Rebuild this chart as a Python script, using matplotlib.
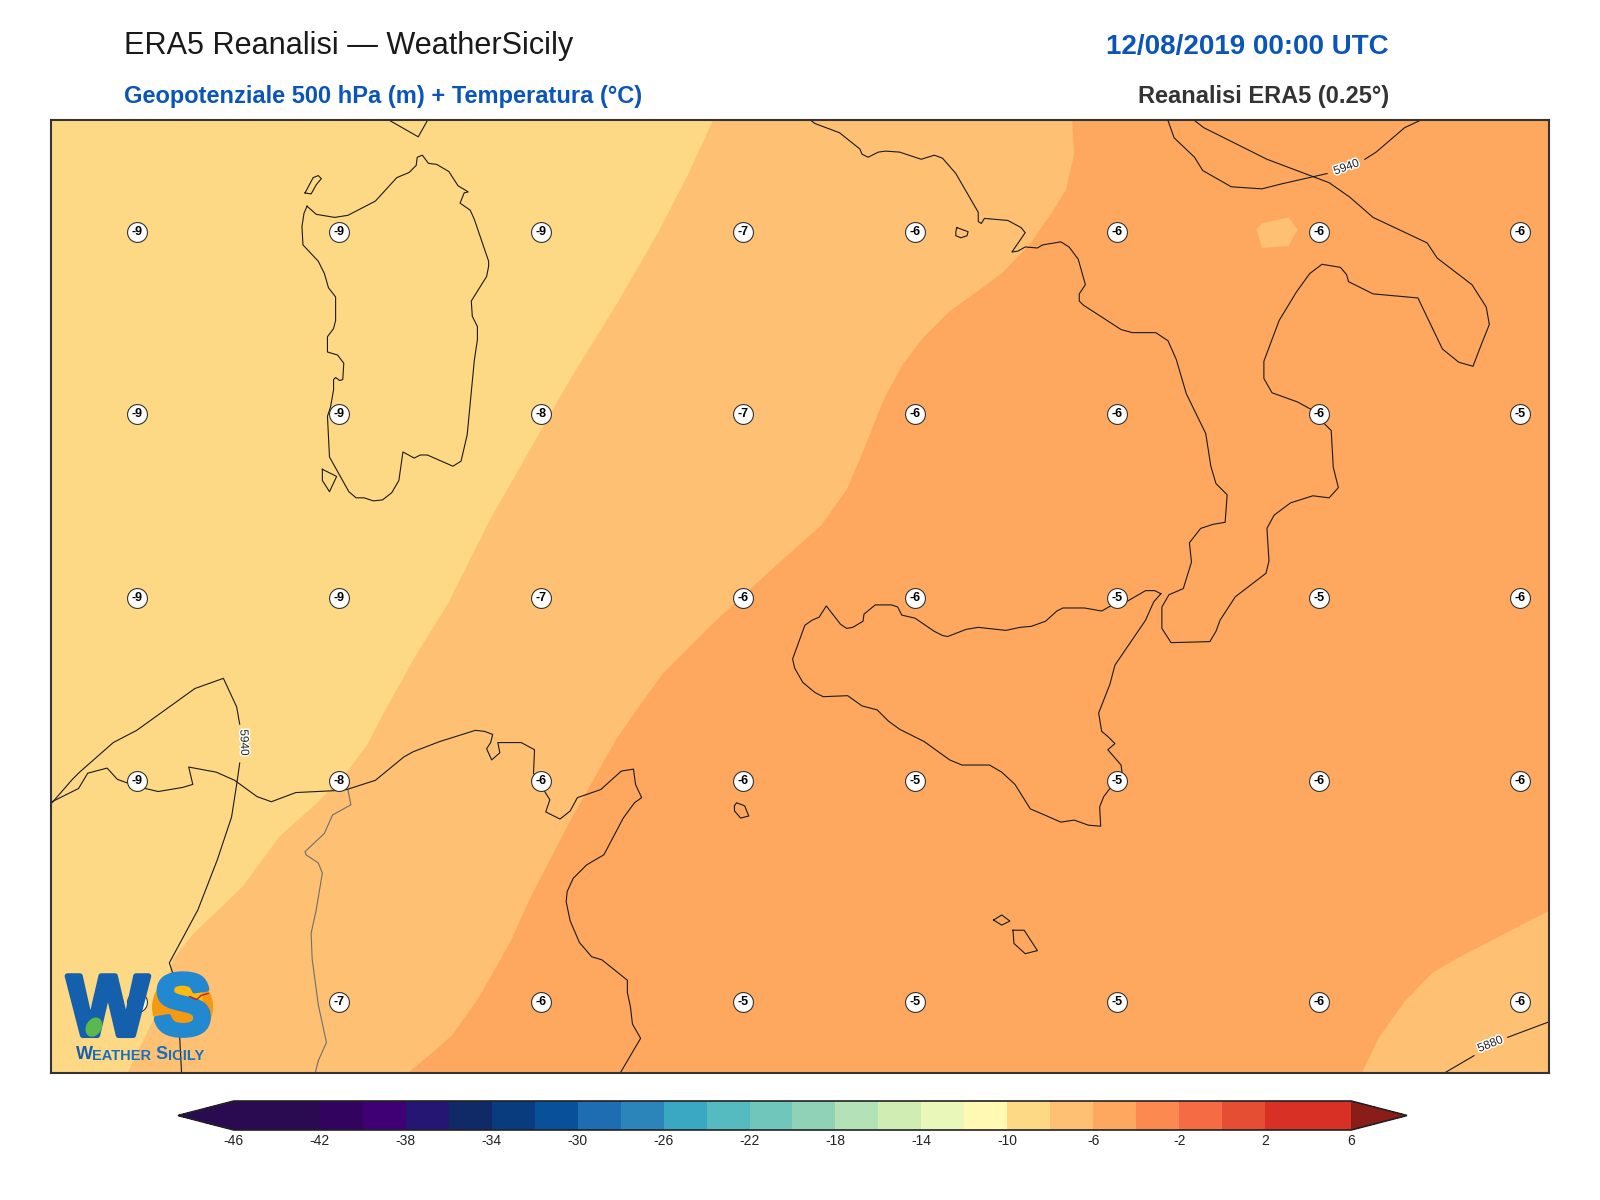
import matplotlib
matplotlib.use("Agg")
import matplotlib.pyplot as plt
import matplotlib.patheffects as pe
from matplotlib.colors import ListedColormap, BoundaryNorm
from matplotlib.colorbar import ColorbarBase
from matplotlib.patches import Circle, Ellipse

plt.rcParams["font.family"] = ["Liberation Sans", "DejaVu Sans"]

# map coordinates run along the frame of the map
XLIM = (49.5, 1518.5)
YLIM = (1052, 117.5)

# temperature classes
levels = list(range(-46, 8, 2))
band_colors = ["#2a0a50", "#2a0a50", "#33045f", "#3f0075", "#241672", "#102a68", "#093c7e",
               "#08509a", "#1e6db2", "#2b85bb", "#3aa7c3", "#55bbc0", "#70c6bb", "#90d2b7",
               "#b3e2b6", "#d0edb4", "#e9f7b8", "#fff9b4", "#fed985", "#fec173", "#fea85f",
               "#fc8a50", "#f56b43", "#e54e33", "#d93026", "#d93026"]
under_color = "#2a0a50"
over_color = "#8b1d18"
tick_values = list(range(-46, 10, 4))

# isotherm -8 from the top edge to the bottom edge
iso_m8_x = [699, 675, 645, 607, 560, 520, 480, 440, 405, 375, 360, 340, 311, 274, 238, 214, 190, 170, 155, 125]
iso_m8_y = [117.5, 170, 228, 294, 370, 440, 510, 590, 647, 701, 730, 757, 787, 820, 869, 892, 915, 940, 990, 1052]

# isotherm -6 from the top edge to the bottom edge
iso_m6_x = [1051, 1053, 1045, 1032, 1009, 983, 967, 931, 905, 885, 867, 855, 845, 830, 805, 760, 700, 650, 624, 604, 578, 562, 539, 519, 500, 470, 444, 431, 400]
iso_m6_y = [117.5, 151, 186, 207, 240, 267, 279, 305, 331, 357, 390, 420, 445, 480, 515, 555, 610, 660, 696, 725, 771, 799, 843, 882, 924, 977, 1014, 1026, 1052]

# warm-side pockets
patch_x = [1232, 1237, 1263, 1272, 1263, 1237]
patch_y = [225, 219, 213, 225, 241, 243]
corner_x = [1518.5, 1470, 1426, 1404, 1377, 1352, 1335, 1518.5]
corner_y = [893, 918, 941, 954, 982, 1017, 1052, 1052]

# coastlines
sardinia_x = [301, 310, 328, 341, 368, 389, 401, 408, 409, 414, 420, 428, 440, 449, 459, 455, 451, 461, 465, 479, 479, 477, 462, 463, 468, 468, 465, 458, 452, 444, 419, 412, 406, 395, 391, 384, 375, 366, 357, 349, 342, 323, 321, 324, 327, 327, 329, 333, 336, 337, 331, 321, 321, 327, 329, 329, 322, 318, 312, 297, 296, 298, 301]
sardinia_y = [202, 210, 213, 211, 197, 174, 169, 162, 154, 152, 160, 161, 168, 182, 188, 189, 199, 206, 215, 256, 261, 271, 295, 310, 320, 333, 353, 426, 452, 457, 446, 446, 449, 443, 471, 483, 490, 491, 488, 488, 482, 448, 408, 399, 382, 372, 370, 373, 372, 356, 348, 345, 330, 322, 314, 291, 282, 268, 256, 240, 222, 209, 202]
corsica_x = [382, 410, 419]
corsica_y = [118, 134, 118]
asinara_x = [299, 307, 312, 315, 310, 305, 299]
asinara_y = [189, 174, 172, 175, 181, 190, 189]
antioco_x = [316, 330, 323, 316, 316]
antioco_y = [460, 467, 482, 471, 460]
italy_x = [795, 799, 823, 843, 845, 851, 861, 868, 882, 903, 916, 924, 937, 959, 959, 962, 965, 988, 1001, 1005, 992, 998, 1005, 1017, 1022, 1040, 1048, 1057, 1064, 1058, 1058, 1062, 1099, 1110, 1133, 1145, 1153, 1163, 1182, 1187, 1192, 1203, 1201, 1189, 1177, 1166, 1168, 1160, 1146, 1139, 1139, 1148, 1186, 1192, 1196, 1211, 1241, 1244, 1242, 1249, 1265, 1287, 1303, 1312, 1307, 1305, 1298, 1292, 1272, 1247, 1239, 1239, 1254, 1271, 1284, 1296, 1314, 1320, 1322, 1346, 1390, 1414, 1430, 1444, 1452, 1460, 1457, 1443, 1409, 1399, 1346, 1323, 1303, 1242, 1180, 1171]
italy_y = [118, 121, 130, 146, 151, 154, 149, 148, 149, 156, 152, 155, 170, 208, 217, 219, 214, 216, 223, 228, 247, 246, 242, 243, 240, 237, 242, 254, 279, 288, 295, 299, 323, 326, 326, 334, 352, 386, 425, 457, 474, 485, 512, 514, 518, 532, 551, 577, 583, 595, 616, 630, 629, 619, 608, 585, 562, 550, 518, 505, 493, 486, 488, 478, 458, 422, 415, 405, 394, 385, 371, 354, 314, 286, 268, 259, 262, 269, 276, 288, 292, 342, 355, 359, 338, 318, 301, 279, 253, 238, 213, 193, 179, 156, 125, 118]
sicily_x = [1138, 1132, 1123, 1104, 1094, 1080, 1063, 1042, 1036, 1025, 1011, 1000, 986, 959, 947, 929, 924, 916, 897, 884, 880, 874, 858, 847, 846, 836, 830, 824, 810, 803, 796, 789, 777, 779, 787, 799, 807, 831, 845, 860, 871, 882, 906, 931, 943, 970, 982, 995, 1010, 1024, 1040, 1053, 1067, 1079, 1078, 1082, 1091, 1100, 1099, 1086, 1093, 1086, 1080, 1077, 1088, 1093, 1123, 1131, 1138]
sicily_y = [582, 579, 579, 590, 591, 599, 596, 596, 599, 609, 614, 615, 618, 615, 617, 624, 623, 619, 606, 603, 595, 593, 593, 602, 609, 615, 616, 612, 594, 605, 608, 613, 646, 655, 669, 679, 683, 682, 692, 696, 707, 715, 727, 745, 750, 750, 757, 769, 793, 799, 806, 804, 809, 810, 791, 781, 769, 758, 750, 735, 729, 722, 717, 699, 671, 652, 608, 590, 582]
tunisia_x = [51, 77, 86, 105, 115, 134, 155, 179, 189, 185, 212, 230, 252, 266, 290, 331, 340, 368, 396, 405, 431, 466, 475, 483, 481, 477, 482, 490, 488, 511, 524, 523, 534, 539, 535, 549, 559, 566, 589, 609, 621, 623, 629, 622, 611, 592, 575, 562, 556, 555, 559, 568, 580, 590, 615, 615, 618, 620, 628, 608]
tunisia_y = [786, 773, 758, 753, 764, 771, 776, 772, 769, 752, 757, 765, 781, 786, 777, 775, 774, 765, 742, 737, 727, 716, 717, 720, 728, 734, 745, 738, 728, 728, 735, 758, 776, 784, 796, 803, 795, 782, 774, 756, 754, 769, 782, 787, 802, 838, 848, 861, 874, 884, 903, 924, 938, 941, 961, 973, 987, 1004, 1018, 1052]
pantelleria_x = [720, 722, 730, 734, 726, 720, 720]
pantelleria_y = [790, 787, 790, 800, 802, 795, 790]
gozo_x = [974, 982, 990, 982, 974]
gozo_y = [902, 897, 903, 907, 902]
malta_x = [993, 1004, 1017, 1005, 994, 993]
malta_y = [912, 912, 932, 935, 925, 912]
ischia_x = [938, 949, 948, 942, 937, 937, 938]
ischia_y = [223, 227, 231, 233, 231, 227, 223]
coasts = [(sardinia_x, sardinia_y), (corsica_x, corsica_y), (asinara_x, asinara_y), (antioco_x, antioco_y),
          (italy_x, italy_y), (sicily_x, sicily_y), (tunisia_x, tunisia_y), (pantelleria_x, pantelleria_y),
          (gozo_x, gozo_y), (malta_x, malta_y), (ischia_x, ischia_y)]

# Tunisia / Algeria border
border_x = [341, 344, 326, 318, 299, 300, 312, 316, 310, 305, 306, 312, 320, 312, 309]
border_y = [774, 789, 799, 817, 835, 838, 846, 856, 892, 915, 940, 985, 1022, 1040, 1052]

# geopotential isolines, cut where the labels sit
z5940_a_x = [51, 71, 78, 111, 134, 191, 219, 232, 235]
z5940_a_y = [787, 764, 757, 728, 716, 675, 665, 693, 710]
z5940_b_x = [235, 232, 227, 213, 194, 173, 166, 170, 175, 178]
z5940_b_y = [748, 769, 801, 843, 892, 931, 944, 956, 996, 1052]
z5940_c_x = [1145, 1151, 1171, 1179, 1207, 1237, 1257, 1301]
z5940_c_y = [118, 135, 154, 167, 183, 185, 180, 170]
z5940_d_x = [1338, 1349, 1377, 1392]
z5940_d_y = [156, 149, 125, 118]
z5880_a_x = [1518, 1478]
z5880_a_y = [1002, 1017]
z5880_b_x = [1445, 1416]
z5880_b_y = [1035, 1052]
iso_lines = [(z5940_a_x, z5940_a_y), (z5940_b_x, z5940_b_y), (z5940_c_x, z5940_c_y),
             (z5940_d_x, z5940_d_y), (z5880_a_x, z5880_a_y), (z5880_b_x, z5880_b_y)]
iso_labels = [("5940", 239, 728, -88), ("5940", 1320, 164, 20), ("5880", 1461, 1024, 22)]

# station temperatures
grid_x = [134, 332, 530, 728, 897, 1095, 1293, 1490]
grid_y = [227, 406, 586, 766, 982]
t_row1 = [-9, -9, -9, -7, -6, -6, -6, -6]
t_row2 = [-9, -9, -8, -7, -6, -6, -6, -5]
t_row3 = [-9, -9, -7, -6, -6, -5, -5, -6]
t_row4 = [-9, -8, -6, -6, -5, -5, -6, -6]
t_row5 = [-8, -7, -6, -5, -5, -5, -6, -6]
t_rows = [t_row1, t_row2, t_row3, t_row4, t_row5]

cmap = ListedColormap(band_colors)
cmap.set_under(under_color)
cmap.set_over(over_color)
norm = BoundaryNorm(levels, cmap.N)

fig = plt.figure(figsize=(16, 12), dpi=100)
ax = fig.add_axes([50.5 / 1600, 1 - 1073 / 1200, (1549 - 50.5) / 1600, (1073 - 120) / 1200])
ax.set_xlim(*XLIM)
ax.set_ylim(*YLIM)
ax.set_xticks([])
ax.set_yticks([])
for s in ax.spines.values():
    s.set_linewidth(1.5)
    s.set_color("#333333")
    s.set_zorder(20)

# filled classes
ax.set_facecolor(cmap(norm(-5)))
ax.fill(iso_m6_x + [XLIM[0], XLIM[0]], iso_m6_y + [YLIM[0], YLIM[1]], color=cmap(norm(-7)), lw=0, zorder=1)
ax.fill(iso_m8_x + [XLIM[0], XLIM[0]], iso_m8_y + [YLIM[0], YLIM[1]], color=cmap(norm(-9)), lw=0, zorder=1.1)
ax.fill(patch_x, patch_y, color=cmap(norm(-7)), lw=0, zorder=1.2)
ax.fill(corner_x, corner_y, color=cmap(norm(-7)), lw=0, zorder=1.2)

ax.plot(border_x, border_y, color="#6e6e6e", lw=0.8, zorder=2)
for cx, cy in coasts:
    ax.plot(cx, cy, color="#1a1a1a", lw=0.8, zorder=3)
for lx, ly in iso_lines:
    ax.plot(lx, ly, color="#1a1a1a", lw=0.8, zorder=3)
for txt, tx, ty, rot in iso_labels:
    ax.text(tx, ty, txt, fontsize=8.5, rotation=rot, rotation_mode="anchor", ha="center", va="center",
            color="#222222", zorder=4,
            path_effects=[pe.withStroke(linewidth=2.2, foreground="white")])

# station markers
for row, gy in zip(t_rows, grid_y):
    for val, gx in zip(row, grid_x):
        ax.scatter(gx, gy, s=205, facecolor="white", edgecolor="#333333", linewidth=0.8, zorder=5)
        ax.text(gx, gy, str(val), fontsize=9, fontweight="bold", ha="center", va="center",
                color="black", zorder=6)

# logo
ax.add_patch(Circle((179, 987), 30, facecolor="#f39a12", edgecolor="none", zorder=7))
ax.add_patch(Ellipse((183, 978), 32, 28, facecolor="#fdb90d", edgecolor="none", zorder=7.1))
ax.text(66, 1015, "W", fontsize=62, fontweight="bold", color="#1560ad", ha="left", va="baseline", zorder=8,
        path_effects=[pe.withStroke(linewidth=4, foreground="#1560ad")])
ax.text(151, 1014, "S", fontsize=62, fontweight="bold", color="#2288d0", ha="left", va="baseline", zorder=9,
        path_effects=[pe.withStroke(linewidth=4, foreground="#2288d0")])
ax.add_patch(Ellipse((92, 1007), 15, 20, angle=30, facecolor="#5bb84f", edgecolor="none", zorder=9))
bird_x = [186, 193, 197, 204]
bird_y = [977, 980, 976, 974]
ax.plot(bird_x, bird_y, color="#c8201e", lw=1, zorder=10)
prev = ax.text(74, 1038, "W", fontsize=13, fontweight="bold", color="#1560ad", va="baseline", zorder=9)
for piece, size in [("EATHER ", 10.5), ("S", 13), ("ICILY", 10.5)]:
    prev = ax.annotate(piece, xy=(1, 0), xycoords=prev, va="bottom", ha="left", fontsize=size,
                       fontweight="bold", color="#1a6fbd", zorder=9)

# colorbar, the axes also holds the two end arrows
cax = fig.add_axes([178 / 1600, 1 - 1130 / 1200, (1407 - 178) / 1600, 29 / 1200])
cb = ColorbarBase(cax, cmap=cmap, norm=norm, orientation="horizontal", extend="both",
                  extendfrac=0.05, spacing="proportional", ticks=tick_values)
cb.ax.tick_params(length=0, labelsize=10, pad=3, labelcolor="#222222")
cb.ax.minorticks_off()
cb.set_ticklabels([str(t) for t in tick_values])
cb.outline.set_linewidth(1.2)
cb.outline.set_edgecolor("#222222")

# titles
fig.text(124 / 1600, 1 - 54 / 1200, "ERA5 Reanalisi \u2014 WeatherSicily", fontsize=22.1, color="#1a1a1a", va="baseline")
fig.text(1389 / 1600, 1 - 54 / 1200, "12/08/2019 00:00 UTC", fontsize=19.95, fontweight="bold", color="#0b55b8",
         ha="right", va="baseline")
fig.text(124 / 1600, 1 - 103 / 1200, "Geopotenziale 500 hPa (m) + Temperatura (\u00b0C)", fontsize=17,
         fontweight="bold", color="#0b55b8", va="baseline")
fig.text(1389 / 1600, 1 - 103 / 1200, "Reanalisi ERA5 (0.25\u00b0)", fontsize=17, fontweight="bold",
         color="#333333", ha="right", va="baseline")

fig.savefig("out.png", dpi=100, facecolor="white")
